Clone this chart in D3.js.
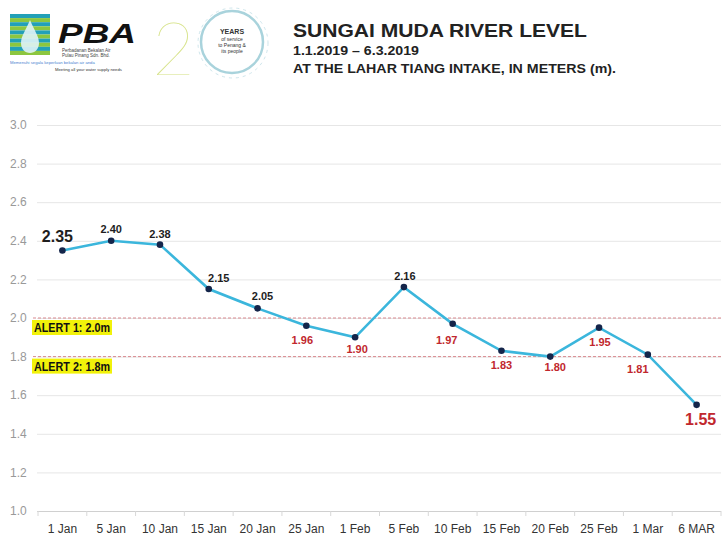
<!DOCTYPE html>
<html><head><meta charset="utf-8">
<script src="https://cdn.jsdelivr.net/npm/d3@7"></script>
<style>body{margin:0;background:#fff;}svg{display:block;font-family:"Liberation Sans",Arial,sans-serif;}</style>
</head><body><svg id="c" width="724" height="538"></svg>
<script>
const categories = ["1 Jan","5 Jan","10 Jan","15 Jan","20 Jan","25 Jan","1 Feb","5 Feb","10 Feb","15 Feb","20 Feb","25 Feb","1 Mar","6 MAR"];
const levels = [2.35,2.40,2.38,2.15,2.05,1.96,1.90,2.16,1.97,1.83,1.80,1.95,1.81,1.55];
const yTicks = [1.0,1.2,1.4,1.6,1.8,2.0,2.2,2.4,2.6,2.8,3.0];
const alerts = [{label:"ALERT 1: 2.0m", value:2.0},{label:"ALERT 2: 1.8m", value:1.8}];
const titleLines = ["SUNGAI MUDA RIVER LEVEL","1.1.2019 \u2013 6.3.2019","AT THE LAHAR TIANG INTAKE, IN METERS (m)."];

const svg = d3.select("#c");
const x = d3.scaleBand().domain(categories).range([38,721]);
const y = d3.scaleLinear().domain([1.0,3.0]).range([511,125]);
const cx = d => x(d) + x.bandwidth()/2;

// header: logo approximations
const logo = svg.append("g");
const stripes = d3.range(10);
logo.selectAll("rect.s").data(stripes).enter().append("rect")
  .attr("x",10).attr("y",(d,i)=>14+i*4.1).attr("width",40).attr("height",4.1)
  .attr("fill",(d,i)=> i%2 ? "#8cc63f" : "#22a0b8");
logo.append("path").attr("d","M30,20 C26,30 21,36 21,43 C21,49 25,53 30,53 C35,53 39,49 39,43 C39,36 34,30 30,20 Z")
  .attr("fill","#dff3f7").attr("opacity",0.9);
logo.append("text").attr("x",58).attr("y",43).attr("font-size",28).attr("font-weight","bold").attr("font-style","italic").attr("fill","#111").attr("textLength",78).attr("lengthAdjust","spacingAndGlyphs").text("PBA");
logo.append("text").attr("x",62).attr("y",52).attr("font-size",4.5).attr("fill","#444").text("Perbadanan Bekalan Air");
logo.append("text").attr("x",62).attr("y",57).attr("font-size",4.5).attr("fill","#444").text("Pulau Pinang Sdn. Bhd.");
logo.append("text").attr("x",10).attr("y",64).attr("font-size",4.2).attr("fill","#4a7fd0").text("Memenuhi segala keperluan bekalan air anda");
logo.append("text").attr("x",55).attr("y",71).attr("font-size",4.2).attr("fill","#333").text("Meeting all your water supply needs");
logo.append("text").attr("x",152).attr("y",75).attr("font-size",74).attr("font-family","Lato").attr("font-weight",200).attr("fill","#d7e38a").text("2");
logo.append("circle").attr("cx",233).attr("cy",43).attr("r",35).attr("fill","none").attr("stroke","#cfe6ec").attr("stroke-width",1).attr("stroke-dasharray","3,4");
logo.append("circle").attr("cx",232).attr("cy",42).attr("r",31).attr("fill","#fff").attr("stroke","#a9d3dc").attr("stroke-width",2.5);
logo.append("text").attr("x",232).attr("y",34).attr("text-anchor","middle").attr("font-size",7).attr("font-weight","bold").attr("fill","#333").text("YEARS");
[["of service",41],["to Penang &",47],["its people",53]].forEach(([t,yy])=>
  logo.append("text").attr("x",232).attr("y",yy).attr("text-anchor","middle").attr("font-size",5).attr("fill","#333").text(t));

// titles
svg.append("text").attr("x",293).attr("y",37).attr("font-size",19).attr("font-weight","bold").attr("fill","#222").attr("textLength",294).attr("lengthAdjust","spacingAndGlyphs").text(titleLines[0]);
svg.append("text").attr("x",293).attr("y",55).attr("font-size",13).attr("font-weight","bold").attr("fill","#222").attr("textLength",126).attr("lengthAdjust","spacingAndGlyphs").text(titleLines[1]);
svg.append("text").attr("x",293).attr("y",73).attr("font-size",13).attr("font-weight","bold").attr("fill","#222").attr("textLength",323).attr("lengthAdjust","spacingAndGlyphs").text(titleLines[2]);

// gridlines + y labels
const yAxis = svg.append("g").attr("transform","translate(37,0)")
  .call(d3.axisLeft(y).tickValues(yTicks).tickSize(-684).tickFormat(d3.format(".1f")).tickPadding(9));
yAxis.select(".domain").remove();
yAxis.selectAll(".tick line").attr("stroke",d=> d===1.0 ? "#d0d0d0" : "#e6e6e6");
yAxis.selectAll(".tick text").attr("fill","#999").attr("font-size",12).attr("font-family","Liberation Sans, Arial").attr("text-anchor","start").attr("x",-27).attr("dy","0.3em");

// x axis
const xAxis = svg.append("g").attr("transform","translate(0,511)")
  .call(d3.axisBottom(x).tickSize(0).tickPadding(13));
xAxis.select(".domain").remove();
xAxis.selectAll(".tick text").attr("fill","#333").attr("font-size",12).attr("font-family","Liberation Sans, Arial");
svg.append("g").selectAll("line").data(categories.concat(["end"])).enter().append("line")
  .attr("x1",(d,i)=> i<categories.length ? x(d) : x(categories[categories.length-1])+x.bandwidth())
  .attr("x2",(d,i)=> i<categories.length ? x(d) : x(categories[categories.length-1])+x.bandwidth())
  .attr("y1",511).attr("y2",516).attr("stroke","#d8d8d8");

// alert lines
alerts.forEach(a=>{
  svg.append("line").attr("x1",33).attr("x2",721).attr("y1",y(a.value)).attr("y2",y(a.value))
    .attr("stroke","#d9898f").attr("stroke-width",1).attr("stroke-dasharray","3,2");
  svg.append("rect").attr("x",32).attr("y",y(a.value)+2).attr("width",80).attr("height",15).attr("fill","#f2f20a");
  svg.append("text").attr("x",34).attr("y",y(a.value)+14).attr("font-size",12).attr("font-weight","bold").attr("fill","#111").attr("textLength",76).attr("lengthAdjust","spacingAndGlyphs").text(a.label);
});

// line
const data = categories.map((c,i)=>({c, v:levels[i], i}));
svg.append("path").datum(data).attr("fill","none").attr("stroke","#3bb6dc").attr("stroke-width",2.6)
  .attr("d", d3.line().x(d=>cx(d.c)).y(d=>y(d.v)));
svg.selectAll("circle.pt").data(data).enter().append("circle").attr("class","pt")
  .attr("cx",d=>cx(d.c)).attr("cy",d=>y(d.v)).attr("r",3.3).attr("fill","#14254a");

// labels
const labelPos = [[-5,-8,16],[0,-8,11],[0,-7,11],[10,-7,11],[5,-8,11],[-4,18,11],[2,16,11],[1,-7,11],[-6,20,11],[0,18,11],[5,14,11],[1,18,11],[-10,18,11],[4,20,16]];
svg.selectAll("text.lbl").data(data).enter().append("text").attr("class","lbl")
  .attr("x",d=>cx(d.c)+labelPos[d.i][0]).attr("y",d=>y(d.v)+labelPos[d.i][1])
  .attr("text-anchor","middle").attr("font-weight","bold").attr("font-size",d=>labelPos[d.i][2])
  .attr("fill",d=> d.v < 2.0 ? "#c1272d" : "#1e1e1e")
  .text(d=>d3.format(".2f")(d.v));
</script></body></html>
